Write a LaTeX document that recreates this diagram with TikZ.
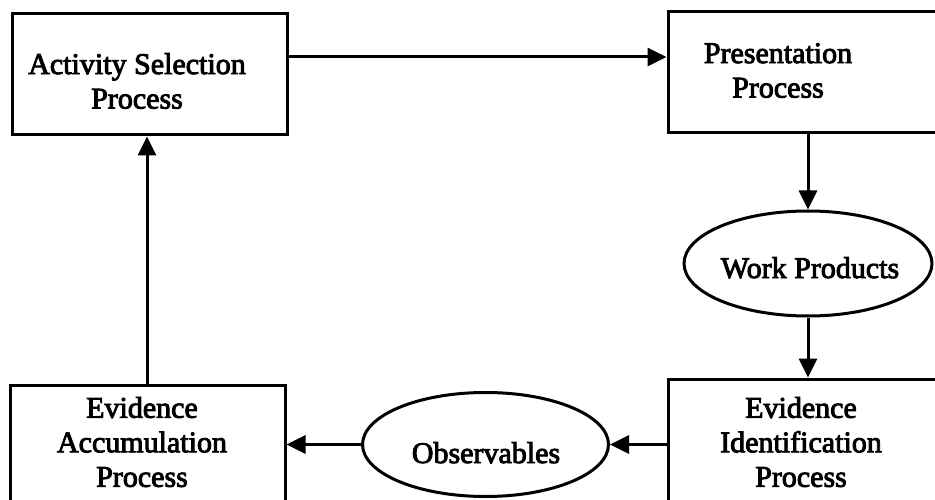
\documentclass[tikz,border=0pt]{standalone}
\usepackage{fontspec}
\newfontfamily\labfont{Liberation Serif}[FakeBold=3]
\usetikzlibrary{arrows.meta,shapes.geometric}
\begin{document}
\begin{tikzpicture}[x=1pt,y=-1pt,line width=3pt,
  procbox/.style={draw,rectangle,inner sep=0pt,minimum width=#1},
  prodell/.style={draw,ellipse,inner sep=0pt,minimum width=248pt,minimum height=105pt},
  lab/.style={font=\labfont\fontsize{30}{34.5}\selectfont,align=center,inner sep=0pt},
  arr/.style={-{Triangle[length=19pt,width=18pt]},line width=3pt}]
\useasboundingbox[fill=white] (0,0) rectangle (935,500);
% boxes
\node[procbox=275pt,minimum height=121pt] (act) at (149.5,74.5) {};
\node[procbox=290pt,minimum height=121pt] (pres) at (813,72.5) {};
\node[procbox=290pt,minimum height=130pt] (eid) at (813,444) {};
\node[procbox=275pt,minimum height=130pt] (eacc) at (147.5,450) {};
% ellipses
\node[prodell] (wp) at (808,263.5) {};
\node[prodell,minimum width=246pt,minimum height=104pt] (obs) at (485.5,444.5) {};
% labels
\node[lab] (actl) at (137,81) {Activity Selection\\Process};
\node[lab] (presl) at (778,70.5) {Presentation\\Process};
\node[lab] (eidl) at (801,442) {Evidence\\Identification\\Process};
\node[lab] (eaccl) at (142,442) {Evidence\\Accumulation\\Process};
\node[lab,anchor=base] (wpl) at (810,278) {Work Products};
\node[lab,anchor=base] (obsl) at (486,463) {Observables};
% connectors
\draw[arr] (act.east |- 0,57) -- (pres.west |- 0,57);
\draw[arr] (pres.south -| wp.north) -- (wp.north);
\draw[arr] (wp.south) -- (eid.north -| wp.south);
\draw[arr] (eid.west |- obs.east) -- (obs.east);
\draw[arr] (obs.west) -- (eacc.east |- obs.west);
\draw[arr] (eacc.north -| 147,0) -- (act.south -| 147,0);
\end{tikzpicture}
\end{document}
